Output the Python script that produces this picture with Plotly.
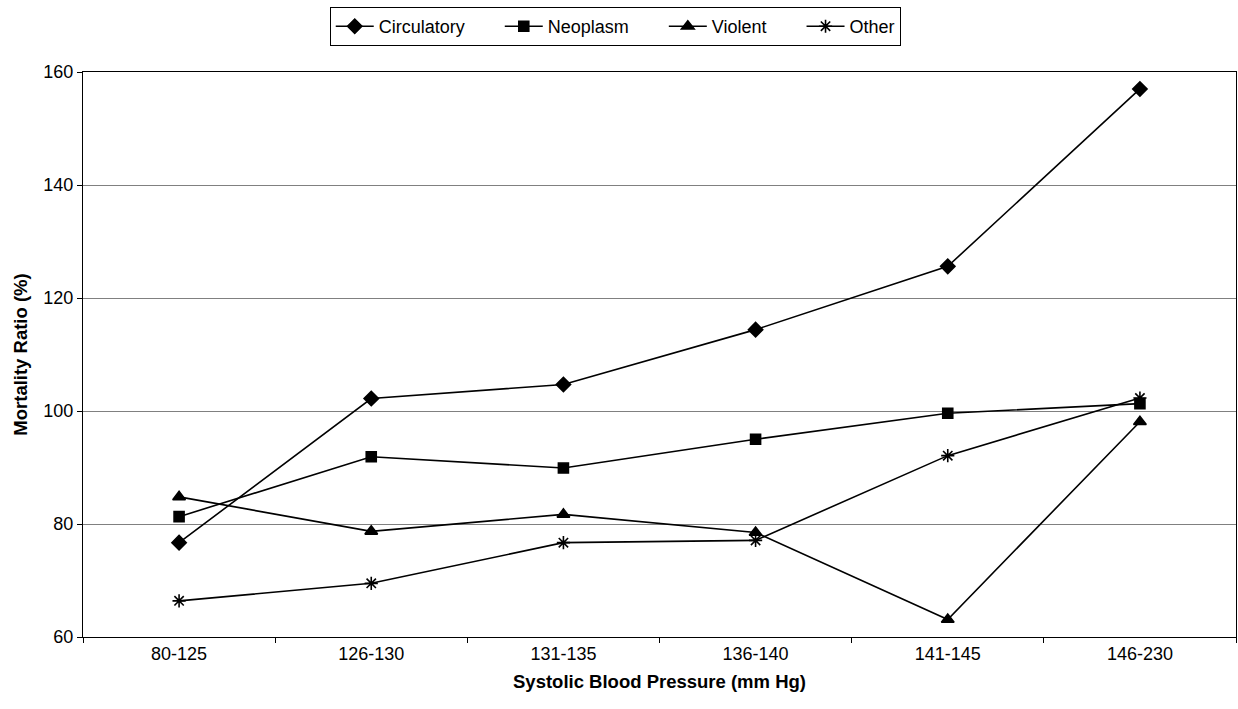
import plotly.graph_objects as go

categories = ["80-125", "126-130", "131-135", "136-140", "141-145", "146-230"]
circulatory = [76.7, 102.2, 104.7, 114.4, 125.6, 157.0]
neoplasm = [81.3, 91.9, 89.9, 95.0, 99.6, 101.3]
violent = [84.8, 78.7, 81.7, 78.5, 63.1, 98.1]
other = [66.4, 69.5, 76.7, 77.1, 92.1, 102.3]

series_names = ["Circulatory", "Neoplasm", "Violent", "Other"]
series_values = [circulatory, neoplasm, violent, other]
symbols = ["diamond", "square", "triangle-up", "asterisk-open"]
sizes = [11, 10, 11, 11]

FONT = "Liberation Sans, Arial, sans-serif"
PAD = "\u00a0" * 6  # spacing between legend entries

fig = go.Figure()
for i, (name, vals, sym, sz) in enumerate(zip(series_names, series_values, symbols, sizes)):
    label = name + (PAD if i < len(series_names) - 1 else "")
    fig.add_trace(go.Scatter(
        x=categories, y=vals, name=label, mode="lines+markers",
        line=dict(color="black", width=1.6),
        marker=dict(symbol=sym, size=sz, color="black",
                    line=dict(color="black", width=1.6)),
    ))

fig.update_layout(
    width=1238, height=709,
    margin=dict(l=83, r=2, t=72, b=72),
    paper_bgcolor="white", plot_bgcolor="white",
    font=dict(family=FONT, color="black", size=18),
    showlegend=True,
    legend=dict(
        orientation="h", x=0.214, xanchor="left", y=1.115, yanchor="top",
        bordercolor="black", borderwidth=1, bgcolor="white",
        font=dict(size=18, family=FONT), itemwidth=38,
        tracegroupgap=0,
    ),
    xaxis=dict(
        type="category", range=[-0.5, 5.5],
        showline=True, linecolor="black", linewidth=1, mirror=True,
        ticks="outside", tickson="boundaries", ticklen=5, tickcolor="black",
        showgrid=False, tickfont=dict(size=18),
        title=dict(text="<b>Systolic Blood Pressure (mm Hg)</b>", font=dict(size=18.5), standoff=12),
    ),
    yaxis=dict(
        range=[60, 160], dtick=20, tick0=60,
        showline=True, linecolor="black", linewidth=1, mirror=True,
        ticks="outside", ticklen=5, tickcolor="black",
        showgrid=True, gridcolor="#808080", gridwidth=1,
        tickfont=dict(size=18), zeroline=False,
        title=dict(text="<b>Mortality Ratio (%)</b>", font=dict(size=18.5), standoff=10),
    ),
)

fig.write_html("out.html")
